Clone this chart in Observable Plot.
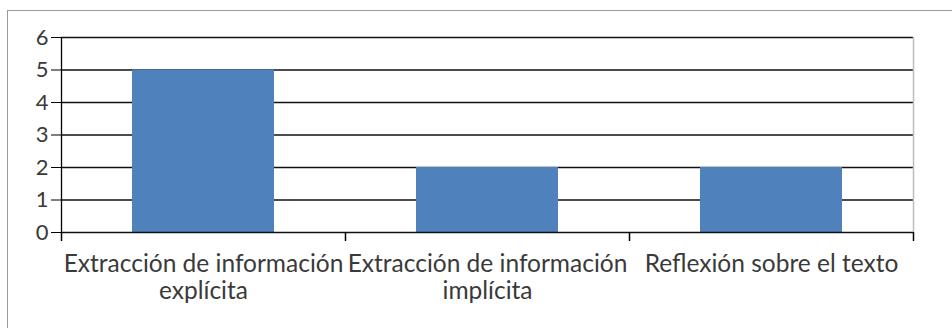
<!DOCTYPE html>
<html><head><meta charset="utf-8">
<script src="https://cdn.jsdelivr.net/npm/d3@7"></script>
<script src="https://cdn.jsdelivr.net/npm/@observablehq/plot@0.6"></script>
<style>
body{margin:0;background:#fff;}
#wrap{position:relative;width:952px;height:328px;overflow:hidden;}
#border{position:absolute;left:7px;top:10px;width:1000px;height:400px;border-left:1px solid #9a9a9a;border-top:1px solid #9a9a9a;pointer-events:none;}
</style>
</head><body>
<div id="wrap"><div id="chart"></div><div id="border"></div></div>
<script>
const categories = ["Extracción de información explícita", "Extracción de información implícita", "Reflexión sobre el texto"];
const values = [5, 2, 2];
const yTicks = [0, 1, 2, 3, 4, 5, 6];
const tickLabels = ["Extracción de información\nexplícita", "Extracción de información\nimplícita", "Reflexión sobre el texto"];

const data = categories.map((c, i) => ({cat: c, i, value: values[i]}));

const chart = Plot.plot({
  width: 952,
  height: 328,
  marginLeft: 61,
  marginRight: 39,
  marginTop: 37,
  marginBottom: 96,
  style: {fontFamily: "Lato, 'Open Sans', sans-serif", background: "transparent", overflow: "visible"},
  x: {domain: [0, categories.length]},
  y: {domain: [0, 6]},
  marks: [
    Plot.gridY(yTicks.filter(t => t > 0), {stroke: "#111", strokeOpacity: 1, strokeWidth: 1.5}),
    Plot.rectY(data, {x1: d => d.i + 0.25, x2: d => d.i + 0.75, y: "value", fill: "#4F81BD"}),
    Plot.ruleX([categories.length], {stroke: "#bdbdbd", strokeWidth: 1.5}),
    Plot.ruleY([0], {stroke: "#111", strokeWidth: 1.5}),
    Plot.ruleX([0], {stroke: "#000", strokeWidth: 1.3}),
    Plot.axisY({ticks: yTicks, tickSize: 10, tickPadding: 3, fontSize: 22, stroke: "#000", fill: "#3a3a3a", label: null, tickFormat: d => String(d)}),
    Plot.axisX({ticks: d3.range(categories.length + 1), tickSize: 9, stroke: "#000", strokeWidth: 1.5, tickFormat: () => "", label: null}),
    Plot.axisX({ticks: categories.map((c, i) => i + 0.5), tickSize: 0, tickPadding: 20, fontSize: 24.5, lineHeight: 1.12, fill: "#3a3a3a", label: null, tickFormat: t => tickLabels[Math.floor(t)]})
  ]
});
document.getElementById("chart").appendChild(chart);
</script>
</body></html>
